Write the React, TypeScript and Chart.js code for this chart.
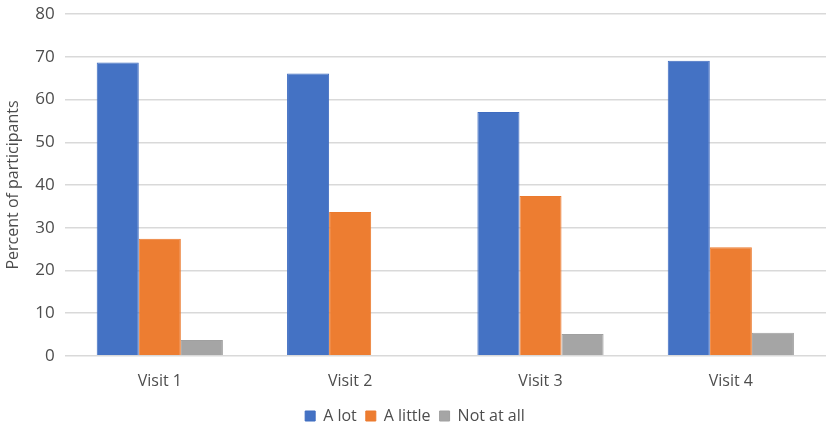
import React, { useEffect, useRef } from "react";
import { Chart, type ChartConfiguration, registerables } from "chart.js";

Chart.register(...registerables);

const visits = ["Visit 1", "Visit 2", "Visit 3", "Visit 4"];
const aLot = [68.7, 66.1, 57.1, 69.1];
const aLittle = [27.4, 33.7, 37.4, 25.4];
const notAtAll = [3.7, 0, 5.1, 5.4];

const FONT = "'Open Sans', 'Noto Sans', sans-serif";
const TEXT = "#4D4D4D";

export default function App() {
  const chartRef = useRef<HTMLCanvasElement | null>(null);
  const chartInstance = useRef<Chart | null>(null);

  useEffect(() => {
    document.body.style.margin = "0";
    if (!chartRef.current) return;
    if (chartInstance.current) chartInstance.current.destroy();

    const config: ChartConfiguration<"bar"> = {
      type: "bar",
      data: {
        labels: visits,
        datasets: [
          { label: "A lot", data: aLot, backgroundColor: "#4472C4", borderColor: "#3F6CC0", borderWidth: 1 },
          { label: "A little", data: aLittle, backgroundColor: "#ED7D31", borderColor: "#EB7A2E", borderWidth: 1 },
          { label: "Not at all", data: notAtAll, backgroundColor: "#A5A5A5", borderColor: "#A0A0A0", borderWidth: 1 },
        ],
      },
      options: {
        responsive: false,
        animation: false,
        layout: { padding: { top: 0, right: 3, left: 4, bottom: 0 } },
        datasets: { bar: { categoryPercentage: 0.663, barPercentage: 1 } },
        plugins: {
          legend: {
            position: "bottom",
            labels: {
              boxWidth: 10,
              boxHeight: 10,
              padding: 9,
              color: TEXT,
              font: { family: FONT, size: 16 },
            },
          },
          tooltip: { enabled: false },
        },
        scales: {
          x: {
            grid: { display: false },
            border: { display: false },
            ticks: { color: TEXT, font: { family: FONT, size: 16 }, padding: 8 },
          },
          y: {
            min: 0,
            max: 80,
            ticks: { stepSize: 10, color: TEXT, font: { family: FONT, size: 17 }, padding: 10 },
            grid: { color: "#D9D9D9", lineWidth: 1.5, drawTicks: false },
            border: { display: false },
            title: {
              display: true,
              text: "Percent of participants",
              color: TEXT,
              font: { family: FONT, size: 16 },
              padding: { top: 0, bottom: 2 },
            },
          },
        },
      },
    };

    chartInstance.current = new Chart(chartRef.current, config);
    return () => {
      if (chartInstance.current) chartInstance.current.destroy();
    };
  }, []);

  return (
    <div style={{ width: 829, height: 434, overflow: "hidden" }}>
      <canvas ref={chartRef} width={829} height={440} style={{ display: "block", marginTop: -6 }} />
    </div>
  );
}
